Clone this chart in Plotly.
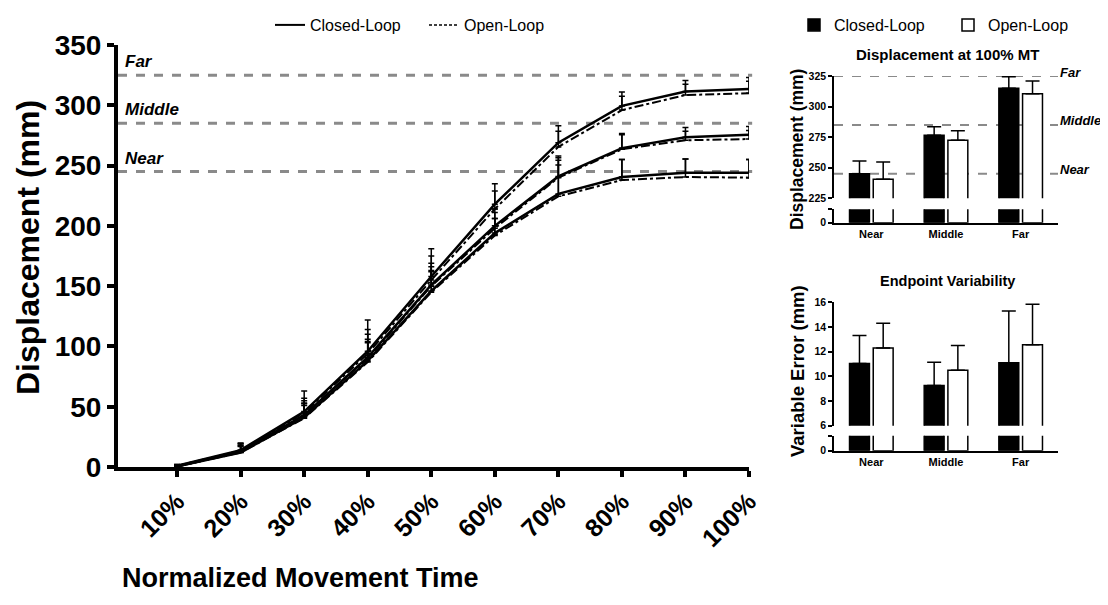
import plotly.graph_objects as go

# The page body adds an 8px offset; the figure is sized so that its
# pixel grid lines up with the 1108x605 window.
OFF = 8
W, H = 1108 - OFF, 605 - OFF
def px(x):
    return (x - OFF) / W
def py(y):
    return 1 - (y - OFF) / H

FONT = "Arial, Liberation Sans, sans-serif"

# ---------------- data ----------------
pct_labels = ["10%", "20%", "30%", "40%", "50%", "60%", "70%", "80%", "90%", "100%"]

far_closed = [1, 14, 46, 96, 158, 218, 269, 299.5, 311.5, 313.5]
far_open = [1, 13.5, 45, 94, 155, 214, 265.5, 296, 308.5, 310]
mid_closed = [0.5, 13, 43, 91, 151, 200, 241, 264.5, 273.5, 275.5]
mid_open = [0.5, 12.5, 43, 90, 150, 198, 240, 263.5, 271, 272]
near_closed = [0.5, 12, 41, 88, 146, 194, 226.5, 240.5, 244, 244]
near_open = [0.5, 12, 40.5, 87, 145, 192, 224.5, 238, 240.5, 240]

far_closed_sd = [1, 6, 17, 26, 23, 17, 14, 11.5, 9, 9.5]
far_open_sd = [1, 6, 12, 20, 20, 15, 13, 11.5, 9, 10]
mid_closed_sd = [1, 6, 12, 19, 18, 14, 17, 12, 8, 7]
mid_open_sd = [1, 5, 10, 16, 16, 13, 14.5, 12, 7.5, 7]
near_closed_sd = [1, 5, 10, 15, 16, 12, 30, 14.5, 11.5, 11]
near_open_sd = [1, 6, 12, 17, 18, 14, 26, 17, 15, 15]

target_names = ["Far", "Middle", "Near"]
target_values = [325, 285, 245]

dist_labels = ["Near", "Middle", "Far"]
disp_closed = [245, 276.5, 315]
disp_closed_sd = [10.5, 7, 9.3]
disp_open = [240.5, 272.5, 310.5]
disp_open_sd = [14.2, 7.8, 10.5]

ve_closed = [11.05, 9.25, 11.1]
ve_closed_sd = [2.25, 1.9, 4.2]
ve_open = [12.3, 10.5, 12.55]
ve_open_sd = [2.0, 2.0, 3.3]

# ---------------- figure ----------------
fig = go.Figure()

series = [
    (far_closed, far_closed_sd, far_open, far_open_sd),
    (mid_closed, mid_closed_sd, mid_open, mid_open_sd),
    (near_closed, near_closed_sd, near_open, near_open_sd),
]

def err(sd, w=3, th=1.5):
    return dict(type="data", symmetric=False, array=sd, arrayminus=[0] * len(sd),
                color="black", thickness=th, width=w)

for i, (c, csd, o, osd) in enumerate(series):
    fig.add_trace(go.Scatter(
        x=pct_labels, y=o, mode="lines", name="Open-Loop",
        line=dict(color="black", width=2, dash="dashdot"),
        error_y=err(osd), showlegend=False,
        legend="legend", xaxis="x", yaxis="y"))
    fig.add_trace(go.Scatter(
        x=pct_labels, y=c, mode="lines", name="Closed-Loop",
        line=dict(color="black", width=2.5),
        error_y=err(csd), showlegend=False,
        legend="legend", xaxis="x", yaxis="y"))

# legend-only entries for line chart
fig.add_trace(go.Scatter(x=[None], y=[None], mode="lines", name="Closed-Loop",
                         line=dict(color="black", width=2), legend="legend",
                         xaxis="x", yaxis="y"))
fig.add_trace(go.Scatter(x=[None], y=[None], mode="lines", name="Open-Loop",
                         line=dict(color="black", width=1.5, dash="3px,2px"), legend="legend",
                         xaxis="x", yaxis="y"))

# bar charts (broken axes: upper + lower segments)
def add_bars(xax, yax, closed, closed_sd, opened, opened_sd, show):
    fig.add_trace(go.Bar(
        x=dist_labels, y=closed, name="Closed-Loop",
        marker=dict(color="black", line=dict(color="black", width=1.5)),
        error_y=err(closed_sd, w=7, th=1.5), showlegend=show, legend="legend2",
        xaxis=xax, yaxis=yax))
    fig.add_trace(go.Bar(
        x=dist_labels, y=opened, name="Open-Loop",
        marker=dict(color="white", line=dict(color="black", width=1.5)),
        error_y=err(opened_sd, w=7, th=1.5), showlegend=show, legend="legend2",
        xaxis=xax, yaxis=yax))

add_bars("x2", "y2", disp_closed, disp_closed_sd, disp_open, disp_open_sd, True)
add_bars("x2", "y3", disp_closed, disp_closed_sd, disp_open, disp_open_sd, False)
add_bars("x3", "y4", ve_closed, ve_closed_sd, ve_open, ve_open_sd, False)
add_bars("x3", "y5", ve_closed, ve_closed_sd, ve_open, ve_open_sd, False)

# reference lines
shapes = []
annotations = []
for name, val in zip(target_names, target_values):
    shapes.append(dict(type="line", xref="x domain", yref="y", x0=0, x1=1.005, y0=val, y1=val,
                       line=dict(color="#8a8a8a", width=3, dash="dash"), layer="below"))
    annotations.append(dict(xref="x domain", yref="y", x=0, xshift=5, y=val, yshift=2,
                            xanchor="left", yanchor="bottom", text=name, showarrow=False,
                            font=dict(family=FONT, size=17, color="black", weight="bold",
                                      style="italic")))
    shapes.append(dict(type="line", xref="x2 domain", yref="y2", x0=0, x1=1, y0=val, y1=val,
                       line=dict(color="#8a8a8a", width=2, dash="dash"), layer="below"))
    annotations.append(dict(xref="x2 domain", yref="y2", x=1.0, xshift=0, y=val, yshift=4,
                            xanchor="left", yanchor="middle", text=name, showarrow=False,
                            font=dict(family=FONT, size=13, color="black", weight="bold",
                                      style="italic")))

def ann(text, x, y, size, angle=0):
    annotations.append(dict(xref="paper", yref="paper", x=px(x), y=py(y), text=text,
                            showarrow=False, xanchor="center", yanchor="middle",
                            textangle=angle,
                            font=dict(family=FONT, size=size, color="black", weight="bold")))

ann("Displacement (mm)", 28, 248, 32, -90)
ann("Normalized Movement Time", 300, 578, 27)
ann("Displacement at 100% MT", 947, 54, 15)
ann("Endpoint Variability", 947, 281, 14.5)
ann("Displacement (mm)", 797, 150, 17.5, -90)
ann("Variable Error (mm)", 797, 371, 18.5, -90)

axis_common = dict(showgrid=False, zeroline=False, showline=True, linecolor="black",
                   ticks="outside", tickcolor="black")

fig.update_layout(
    width=W, height=H, autosize=False,
    margin=dict(l=0, r=0, t=0, b=0, autoexpand=False),
    paper_bgcolor="white", plot_bgcolor="white",
    font=dict(family=FONT, color="black"),
    barmode="group", bargap=0.365, bargroupgap=0.16,
    shapes=shapes, annotations=annotations,
    xaxis=dict(domain=[px(118), px(749)], anchor="y", type="category",
               range=[-0.93, 9.0], linewidth=4, ticklen=6, tickwidth=4, tickangle=-45,
               tickfont=dict(family=FONT, size=25, weight="bold"), **axis_common),
    yaxis=dict(domain=[py(467), py(45)], anchor="x", range=[0, 350], dtick=50,
               linewidth=4, ticklen=7, tickwidth=4,
               tickfont=dict(family=FONT, size=28, weight="bold"), **axis_common),
    xaxis2=dict(domain=[px(834), px(1058)], anchor="y3", range=[-0.5, 2.5],
                showgrid=False, zeroline=False, showline=True, linecolor="black",
                linewidth=1.5, ticks="",
                tickfont=dict(family=FONT, size=11, weight="bold")),
    yaxis2=dict(domain=[py(198.3), py(76)], anchor="x2", range=[225, 325],
                tickvals=[225, 250, 275, 300, 325], linewidth=1.5, ticklen=4, tickwidth=1.5,
                tickfont=dict(family=FONT, size=10.5, weight="bold"), **axis_common),
    yaxis3=dict(domain=[py(222.7), py(209.3)], anchor="x2", range=[0, 10],
                tickvals=[0, 10], ticktext=["0", ""], linewidth=1.5, ticklen=4, tickwidth=1.5,
                tickfont=dict(family=FONT, size=10.5, weight="bold"), **axis_common),
    xaxis3=dict(domain=[px(834), px(1058)], anchor="y5", range=[-0.5, 2.5],
                showgrid=False, zeroline=False, showline=True, linecolor="black",
                linewidth=1.5, ticks="",
                tickfont=dict(family=FONT, size=11, weight="bold")),
    yaxis4=dict(domain=[py(425.7), py(302.3)], anchor="x3", range=[6, 16], dtick=2,
                linewidth=1.5, ticklen=4, tickwidth=1.5,
                tickfont=dict(family=FONT, size=10.5, weight="bold"), **axis_common),
    yaxis5=dict(domain=[py(450.7), py(435.7)], anchor="x3", range=[0, 1],
                tickvals=[0, 1], ticktext=["0", ""], linewidth=1.5, ticklen=4, tickwidth=1.5,
                tickfont=dict(family=FONT, size=10.5, weight="bold"), **axis_common),
    legend=dict(orientation="h", x=px(270), y=1, xanchor="left", yanchor="top",
                traceorder="normal", entrywidth=109,
                font=dict(family=FONT, size=16, color="black"), bgcolor="rgba(0,0,0,0)"),
    legend2=dict(orientation="h", x=px(794), y=1, xanchor="left", yanchor="top",
                 traceorder="normal", entrywidth=109,
                 font=dict(family=FONT, size=16, color="black"), bgcolor="rgba(0,0,0,0)"),
)

fig.write_html("out.html")
